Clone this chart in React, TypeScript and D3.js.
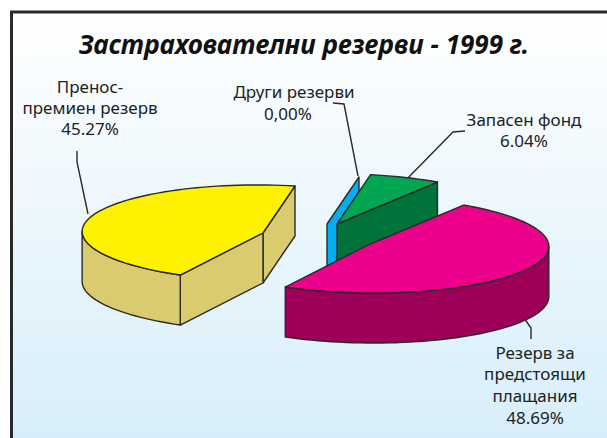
import React from "react";
import * as d3 from "d3";

const categories = ["Други резерви", "Запасен фонд", "Резерв за предстоящи плащания", "Пренос-премиен резерв"];
const values = [0.0, 6.04, 48.69, 45.27];
const topColors = ["#00aeef", "#00a651", "#ec008c", "#fff200"];
const wallColors = ["#00aeef", "#00733b", "#9e0059", "#d9cb6e"];
const sliceCenters: [number, number][] = [[327, 224], [337, 224], [368, 245], [263, 233]];
const sliceScale = [1, 1.05, 1, 1];

const W = 607, H = 438, DEPTH = 50;
const vUp: [number, number] = [32, -47];
const vRight: [number, number] = [178, 10];

const project = (c: [number, number], t: number, s: number): [number, number] => [
  c[0] + s * (Math.cos(t) * vUp[0] + Math.sin(t) * vRight[0]),
  c[1] + s * (Math.cos(t) * vUp[1] + Math.sin(t) * vRight[1]),
];

const pieGen = d3.pie<number>().sort(null).value((d) => d);
const arcs = pieGen(values);
const line = d3.line();
const extreme = Math.atan2(vRight[0], vUp[0]);

function arcPts(c: [number, number], s: number, a0: number, a1: number, dy = 0) {
  const n = Math.max(2, Math.ceil(Math.abs(a1 - a0) / 0.04));
  return d3.range(n + 1).map((i) => {
    const p = project(c, a0 + ((a1 - a0) * i) / n, s);
    return [p[0], p[1] + dy] as [number, number];
  });
}

const labelFont = "'Noto Sans', sans-serif";

export default function App() {
  const stroke = "#2a2a2a";
  const slices = arcs.map((a, i) => {
    const c = sliceCenters[i];
    const s = sliceScale[i];
    const top = a.value === 0 ? "" : line([c, ...arcPts(c, s, a.startAngle, a.endAngle)])! + "Z";
    const lo = Math.max(a.startAngle, extreme);
    const hi = Math.min(a.endAngle, extreme + Math.PI);
    const outer = hi > lo
      ? line([...arcPts(c, s, lo, hi), ...arcPts(c, s, hi, lo, DEPTH)])! + "Z"
      : "";
    const radial = (t: number) => {
      const p = project(c, t, s);
      return line([c, p, [p[0], p[1] + DEPTH], [c[0], c[1] + DEPTH]])! + "Z";
    };
    return { i, top, outer, startWall: radial(a.startAngle), endWall: radial(a.endAngle) };
  });
  const [blue, green, pink, yellow] = slices;
  return (
    <svg width={W} height={H} style={{ position: "absolute", left: 0, top: 0 }}>
      <defs>
        <linearGradient id="bg" x1="0" y1="0" x2="0" y2="1">
          <stop offset="0" stopColor="#ffffff" />
          <stop offset="1" stopColor="#d6eefa" />
        </linearGradient>
      </defs>
      <rect width={W} height={H} fill="#fff" />
      <rect x={11.5} y={12} width={W} height={H} fill="url(#bg)" stroke="#2a2a2a" strokeWidth={3} />
      <text x={304} y={54} textAnchor="middle" fontFamily={labelFont} fontStyle="italic" fontWeight={700} fontSize={26} fill="#111">Застрахователни резерви - 1999 г.</text>

      {/* leaders */}
      <g fill="none" stroke={stroke} strokeWidth={1.4}>
        <path d="M88,214L77,162L77,151" />
        <path d="M333,103L344,104L358,176" />
        <path d="M465,131L453,132L405,181" />
        <path d="M524,318L531,328L531,339" />
      </g>

      <g stroke={stroke} strokeWidth={1.4} strokeLinejoin="round">
        <path d={yellow.endWall} fill={wallColors[3]} />
        <path d={yellow.startWall} fill={wallColors[3]} />
        <path d={yellow.outer} fill={wallColors[3]} />
        <path d={yellow.top} fill={topColors[3]} />
        <path d={blue.startWall} fill={wallColors[0]} />
        <path d={green.endWall} fill={wallColors[1]} />
        <path d={green.top} fill={topColors[1]} />
        <path d={pink.outer} fill={wallColors[2]} />
        <path d={pink.top} fill={topColors[2]} />
      </g>

      <g fontFamily={labelFont} fontSize={17} fill="#222" textAnchor="middle">
        <text x={90} y={93}>Пренос-</text>
        <text x={90} y={114}>премиен резерв</text>
        <text x={90} y={135}>45.27%</text>
        <text x={294} y={98}>Други резерви</text>
        <text x={288} y={120}>0,00%</text>
        <text x={524} y={126}>Запасен фонд</text>
        <text x={524} y={147}>6.04%</text>
        <text x={535} y={359}>Резерв за</text>
        <text x={535} y={380}>предстоящи</text>
        <text x={535} y={402}>плащания</text>
        <text x={535} y={424}>48.69%</text>
      </g>
    </svg>
  );
}
